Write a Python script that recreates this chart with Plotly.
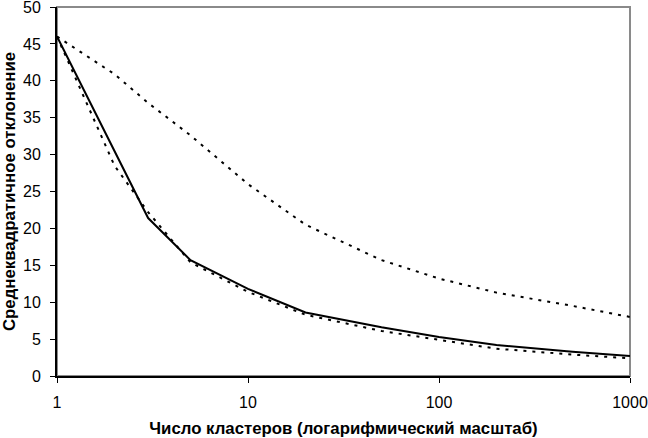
import plotly.graph_objects as go

clusters = [1, 2, 3, 5, 10, 20, 50, 100, 200, 500, 1000]
solid_x = [1, 3, 5, 10, 20, 50, 100, 200, 500, 1000]
solid_y = [46.0, 21.4, 15.7, 11.8, 8.6, 6.6, 5.3, 4.2, 3.3, 2.7]
lower_dotted = [46.0, 28.5, 22.2, 15.4, 11.4, 8.3, 6.1, 4.9, 3.7, 2.9, 2.4]
upper_dotted = [46.0, 40.9, 37.0, 32.6, 26.0, 20.5, 15.7, 13.2, 11.3, 9.5, 8.0]

x_ticks = [1, 10, 100, 1000]
x_tick_text = ["1", "10", "100", "1000"]
y_ticks = [0, 5, 10, 15, 20, 25, 30, 35, 40, 45, 50]

x_title = "Число кластеров (логарифмический масштаб)"
y_title = "Среднеквадратичное отклонение"

fig = go.Figure()
fig.add_trace(go.Scatter(x=clusters, y=upper_dotted, mode="lines",
                         line=dict(color="black", width=2, dash="3px,6px")))
fig.add_trace(go.Scatter(x=clusters, y=lower_dotted, mode="lines",
                         line=dict(color="black", width=2, dash="3px,6px")))
fig.add_trace(go.Scatter(x=solid_x, y=solid_y, mode="lines",
                         line=dict(color="black", width=2)))

fam = "Liberation Sans, Arial, sans-serif"
font = dict(family=fam, size=16, color="black")
title_font = dict(family=fam, size=16.8, color="black", weight="bold")

fig.update_layout(
    width=648, height=438,
    margin=dict(l=57, r=18, t=7, b=62),
    paper_bgcolor="white", plot_bgcolor="white",
    showlegend=False,
    font=font,
    shapes=[dict(type="rect", xref="paper", yref="paper", x0=0, y0=0, x1=1, y1=1,
                 line=dict(color="#8a8a8a", width=2), layer="below")],
)
fig.update_xaxes(
    type="log", range=[0, 3], tickvals=x_ticks, ticktext=x_tick_text,
    showgrid=False, zeroline=False, showline=True, linecolor="black", linewidth=2,
    ticks="outside", ticklen=5, tickcolor="black", tickwidth=1,
    ticklabelstandoff=6, ticklabeloverflow="allow",
    title=dict(text=x_title, font=title_font, standoff=14),
    automargin=False,
)
fig.update_yaxes(
    range=[0, 50], tickvals=y_ticks,
    showgrid=False, zeroline=False, showline=True, linecolor="black", linewidth=2,
    ticks="outside", ticklen=5, tickcolor="black", tickwidth=1,
    ticklabelstandoff=6, ticklabeloverflow="allow",
    title=dict(text=y_title, font=title_font, standoff=4),
    automargin=False,
)

fig.write_html("out.html", config={"displayModeBar": False},
               post_script="document.body.style.margin='0';document.body.style.overflow='hidden';")
